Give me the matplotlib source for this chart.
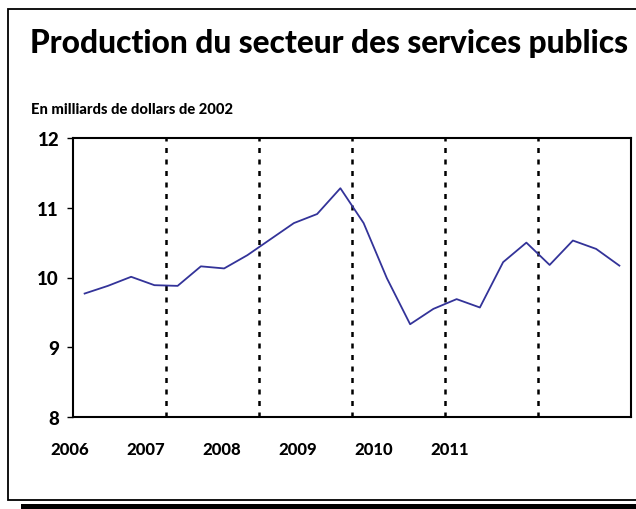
import matplotlib
matplotlib.use("Agg")
import matplotlib.pyplot as plt
from matplotlib.patches import Rectangle
from matplotlib.transforms import blended_transform_factory

# quarterly output, billions of 2002 dollars, 2006Q1 .. 2011Q4
values = [9.77, 9.88, 10.01, 9.89, 9.88, 10.16, 10.13, 10.32,
          10.55, 10.78, 10.91, 11.28, 10.78, 9.99, 9.33, 9.55,
          9.69, 9.57, 10.22, 10.50, 10.18, 10.53, 10.41, 10.17]
first_year = 2006
year_labels = ["2006", "2007", "2008", "2009", "2010", "2011"]
y_ticks = [8, 9, 10, 11, 12]

title = "Production du secteur des services publics"
subtitle = "En milliards de dollars de 2002"

plt.rcParams['font.family'] = ['Lato', 'DejaVu Sans']

fig = plt.figure(figsize=(6.36, 5.1), dpi=100)

# outer frame with shadow
fig.patches.append(Rectangle((21 / 636, 0), 1, 5 / 510, transform=fig.transFigure,
                             facecolor="black", edgecolor="none", zorder=-2))
fig.patches.append(Rectangle((8 / 636, 1 - 501 / 510), 1, 491 / 510,
                             transform=fig.transFigure, facecolor="white",
                             edgecolor="black", linewidth=1.3, zorder=-1))

ax = fig.add_axes([73 / 636, 1 - 418 / 510, 558 / 636, 279 / 510])

xs = [first_year + (i + 0.5) / 4 for i in range(len(values))]
ax.plot(xs, values, color="#333399", linewidth=1.3, zorder=3)

ax.set_xlim(first_year, first_year + 6)
ax.set_ylim(8, 12)

# dotted year separators
for k in range(1, 7):
    ax.axvline(first_year + k, color="black", linestyle=(0, (2, 2.6)),
               linewidth=1.8, zorder=2)

ax.set_yticks(y_ticks)
ax.set_yticklabels([str(v) for v in y_ticks], fontsize=13.5, fontweight=900)
ax.tick_params(axis="y", direction="out", length=4, width=1, pad=6)
ax.set_xticks([])

trans = blended_transform_factory(ax.transData, ax.transAxes)
for k, lab in enumerate(year_labels):
    ax.text(first_year - 0.04 + 0.818 * k, -0.115, lab, transform=trans,
            ha="center", va="center", fontsize=12, fontweight=900)

for s in ax.spines.values():
    s.set_linewidth(1.5)

fig.text(30 / 636, 1 - 43 / 510, title, fontsize=22.8, fontweight=900,
         ha="left", va="center")
fig.text(31 / 636, 1 - 110 / 510, subtitle, fontsize=10.6, fontweight=900,
         ha="left", va="center")

fig.savefig("out.png", dpi=100)
